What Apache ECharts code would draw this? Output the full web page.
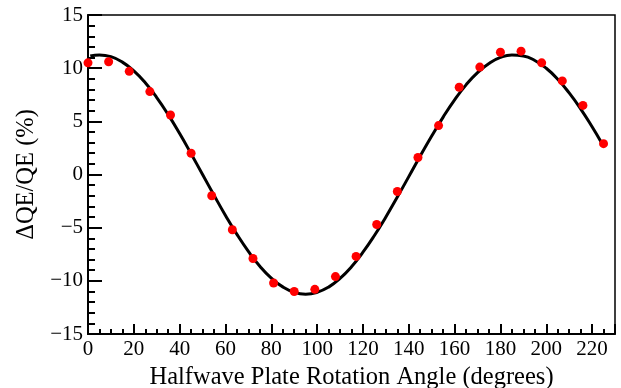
<!DOCTYPE html>
<html>
<head>
<meta charset="utf-8">
<script src="https://cdn.jsdelivr.net/npm/echarts@6/dist/echarts.min.js"></script>
<style>html,body{margin:0;padding:0;background:#fff}#c{width:621px;height:388px}</style>
</head>
<body>
<div id="c"></div>
<script>
// Measured points (angle in degrees, ΔQE/QE in %)
const angles = [0, 9, 18, 27, 36, 45, 54, 63, 72, 81, 90, 99, 108, 117, 126, 135, 144, 153, 162, 171, 180, 189, 198, 207, 216, 225];
const dqe = [10.5, 10.6, 9.7, 7.8, 5.6, 2.0, -2.0, -5.2, -7.9, -10.2, -11.0, -10.8, -9.6, -7.7, -4.7, -1.6, 1.6, 4.6, 8.2, 10.1, 11.5, 11.6, 10.5, 8.8, 6.5, 2.9];
// Fit curve
const fitX = [1, 5, 10, 15, 20, 25, 30, 35, 40, 45, 50, 55, 60, 65, 70, 75, 80, 85, 90, 95, 100, 105, 110, 115, 120, 125, 130, 135, 140, 145, 150, 155, 160, 165, 170, 175, 180, 185, 190, 195, 200, 205, 210, 215, 220, 224];
const fitY = [11.15, 11.25, 11.08, 10.57, 9.74, 8.62, 7.23, 5.63, 3.85, 1.95, 0.0, -1.95, -3.85, -5.63, -7.23, -8.62, -9.74, -10.57, -11.08, -11.25, -11.08, -10.59, -9.77, -8.67, -7.31, -5.74, -3.99, -2.12, -0.2, 1.74, 3.62, 5.4, 7.02, 8.43, 9.58, 10.45, 11.01, 11.24, 11.15, 10.72, 9.99, 8.96, 7.67, 6.18, 4.49, 3.04];
const xTitle = 'Halfwave Plate Rotation Angle (degrees)';
const yTitle = 'ΔQE/QE (%)';

const font = 'Liberation Serif';
const chart = echarts.init(document.getElementById('c'), null, {renderer: 'canvas'});
chart.setOption({
  animation: false,
  grid: {left: 88, right: 6, top: 15, bottom: 54, show: true, borderColor: '#000', borderWidth: 1.5, outerBoundsMode: 'none'},
  xAxis: {
    type: 'value', min: 0, max: 230, interval: 20,
    name: xTitle, nameLocation: 'middle', nameGap: 20,
    nameTextStyle: {fontFamily: font, fontSize: 24.5, color: '#000'},
    axisLine: {onZero: false, lineStyle: {color: '#000', width: 2}},
    axisTick: {inside: true, length: 10, lineStyle: {color: '#000', width: 2}},
    minorTick: {show: true, splitNumber: 4, length: 5, lineStyle: {color: '#000', width: 2}},
    splitLine: {show: false},
    axisLabel: {fontFamily: font, fontSize: 21, color: '#000', margin: 5, showMaxLabel: false}
  },
  yAxis: {
    type: 'value', min: -15, max: 15, interval: 5,
    name: yTitle, nameLocation: 'middle', nameGap: 46,
    nameTextStyle: {fontFamily: font, fontSize: 24.5, color: '#000'},
    axisLine: {onZero: false, lineStyle: {color: '#000', width: 2}},
    axisTick: {inside: true, length: 14, lineStyle: {color: '#000', width: 2}},
    minorTick: {show: true, splitNumber: 5, length: 7, lineStyle: {color: '#000', width: 2}},
    splitLine: {show: false},
    axisLabel: {fontFamily: font, fontSize: 21, color: '#000', margin: 5,
      formatter: v => String(v).replace('-', '\u2212')}
  },
  series: [
    {
      type: 'line', data: fitX.map((x, i) => [x, fitY[i]]),
      smooth: true, showSymbol: false, symbol: 'none',
      lineStyle: {color: '#000', width: 3}, z: 2
    },
    {
      type: 'scatter', data: angles.map((x, i) => [x, dqe[i]]),
      symbol: 'circle', symbolSize: 9,
      itemStyle: {color: '#ff0000', opacity: 1}, z: 3
    }
  ]
});
</script>
</body>
</html>
